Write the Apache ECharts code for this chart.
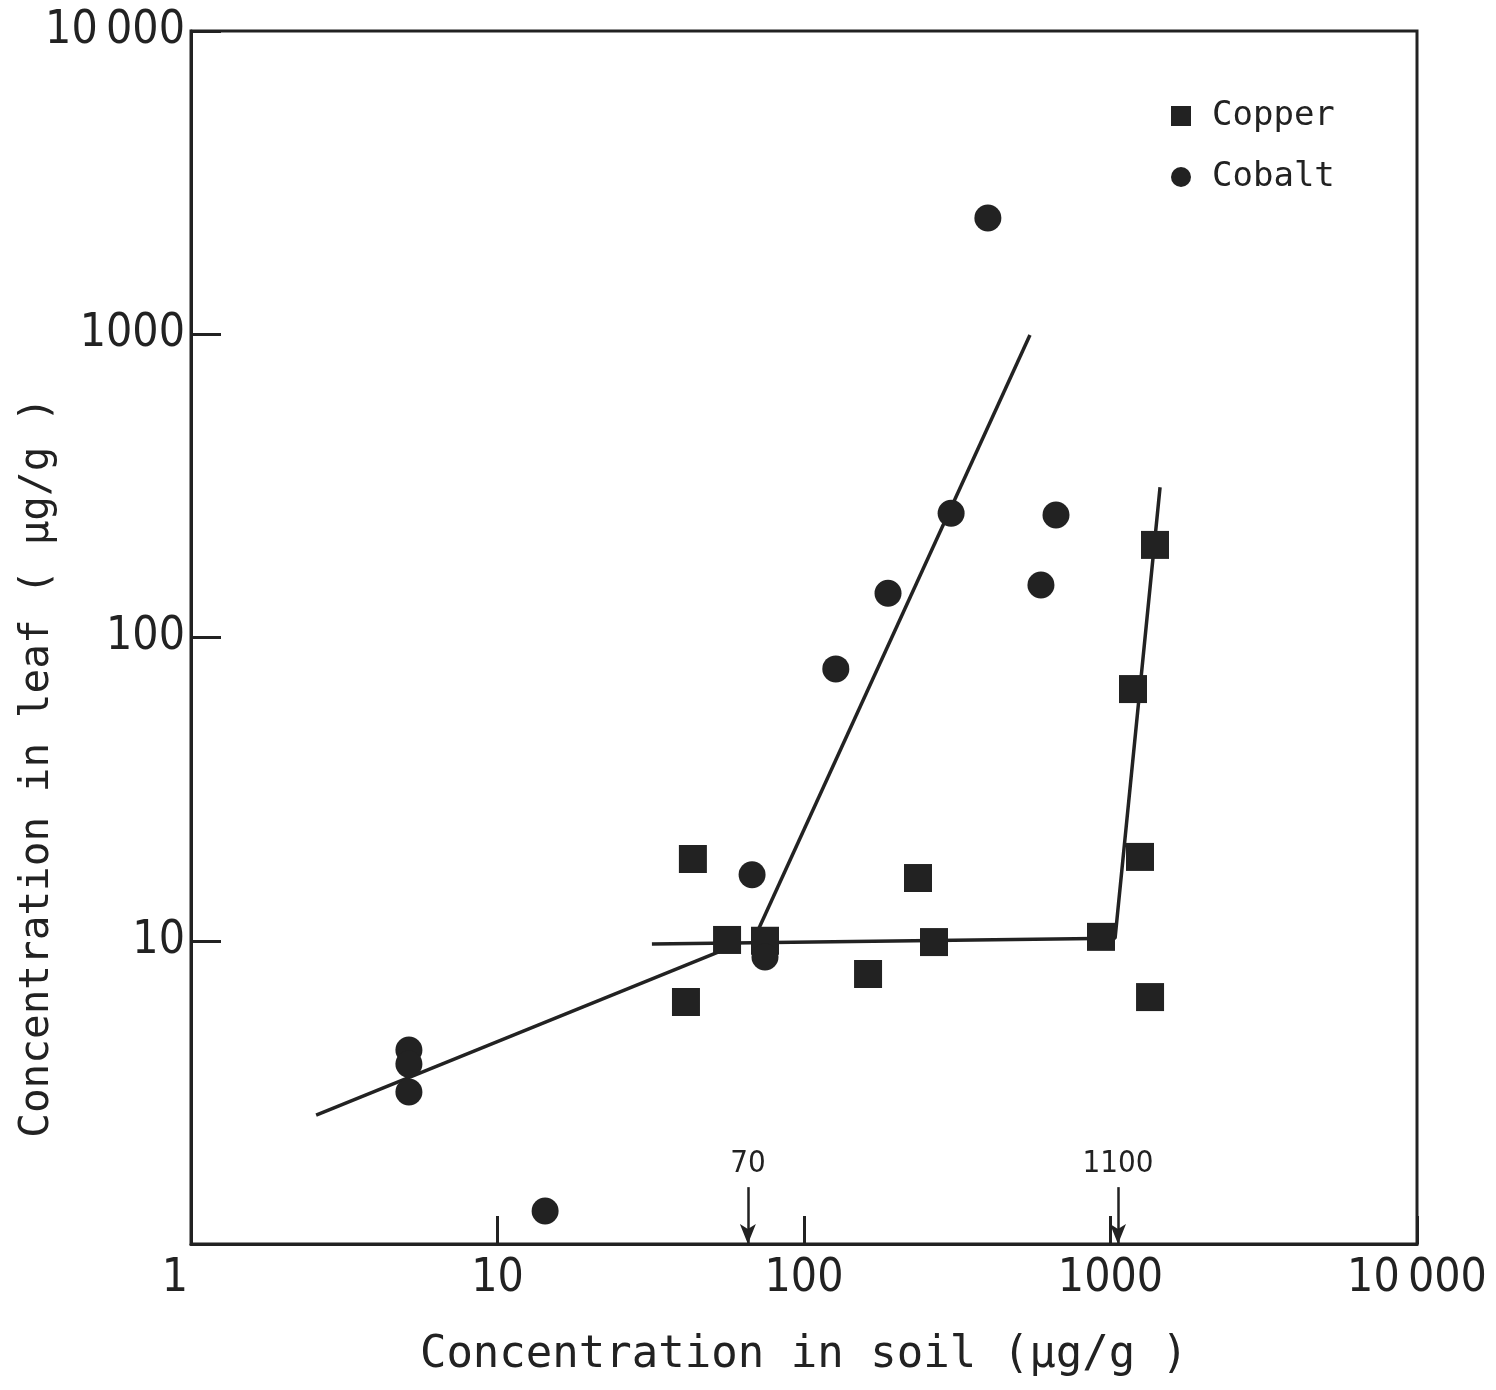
<!DOCTYPE html>
<html>
<head>
<meta charset="utf-8">
<script src="https://cdn.jsdelivr.net/npm/echarts@6/dist/echarts.min.js"></script>
<style>
html,body{margin:0;padding:0;background:#fff;}
#chart{width:1496px;height:1390px;}
</style>
</head>
<body>
<div id="chart"></div>
<script>
// Tick values / labels
const xTickLabels = {1:'1', 10:'10', 100:'100', 1000:'1000', 10000:'10\u2009000'};
const yTickLabels = {1:'', 10:'10', 100:'100', 1000:'1000', 10000:'10\u2009000'};

// Copper (squares)
const copperX = [43.4, 41.2, 56.1, 74.6, 161.8, 235.5, 265.6, 931, 1248, 1346, 1184, 1397];
const copperY = [18.6, 6.28, 10.06, 10.0, 7.77, 16.1, 9.9, 10.3, 18.9, 6.52, 67.6, 202];

// Cobalt (circles)
const cobaltX = [398, 664, 302, 593, 188, 127, 67.7, 74.6, 5.14, 5.14, 5.14, 14.3];
const cobaltY = [2417, 253.6, 257, 149, 140, 78.8, 16.5, 8.84, 4.36, 3.92, 3.17, 1.285];

// Fitted lines
const cobaltLowX = [2.56, 57];
const cobaltLowY = [2.66, 9.5];
const cobaltSteepX = [68, 546];
const cobaltSteepY = [9.9, 995];
const copperFitX = [31.9, 1035, 1451];
const copperFitY = [9.76, 10.2, 313];

// Threshold arrows
const arrowX = [65.6, 1058];
const arrowLabels = ['70', '1100'];
const arrowTopY = 1.54;

const zip = (a, b) => a.map((v, i) => [v, b[i]]);
const INK = '#222';
const NUMFONT = '"DejaVu Sans Condensed", "Liberation Sans Narrow", "DejaVu Sans", sans-serif';
const TITLEFONT = '"DejaVu Sans Mono", monospace';

const chart = echarts.init(document.getElementById('chart'));
const lineStyle = {color: INK, width: 3.5};

chart.setOption({
  animation: false,
  backgroundColor: '#fff',
  grid: {left: 191, top: 31, right: 79, bottom: 146, show: true, borderColor: INK, borderWidth: 3,
         containLabel: false, outerBoundsMode: 'none'},
  legend: {
    orient: 'vertical', left: 1166, top: 91,
    itemWidth: 20, itemHeight: 20, itemGap: 21,
    data: [{name: 'Copper', icon: 'rect'}, {name: 'Cobalt', icon: 'circle'}],
    textStyle: {fontFamily: TITLEFONT, fontSize: 34, color: INK, lineHeight: 40, padding: [0, 0, 0, 16]},
    itemStyle: {color: INK, opacity: 1}
  },
  xAxis: {
    type: 'log', logBase: 10, min: 1, max: 10000,
    name: 'Concentration in soil (µg/g )', nameLocation: 'middle', nameGap: 90,
    nameMoveOverlap: false,
    nameTextStyle: {fontFamily: TITLEFONT, fontSize: 44, color: INK},
    axisLine: {lineStyle: {color: INK, width: 3}},
    axisTick: {inside: true, length: 28, lineStyle: {color: INK, width: 3}},
    splitLine: {show: false},
    axisLabel: {
      margin: 12, color: INK, fontFamily: NUMFONT, fontSize: 46,
      formatter: v => v === 1 ? '{one|1}' : (xTickLabels[v] || ''),
      rich: {one: {fontFamily: NUMFONT, fontSize: 46, color: INK, padding: [0, 32, 0, 0]}}
    }
  },
  yAxis: {
    type: 'log', logBase: 10, min: 1, max: 10000,
    name: 'Concentration in leaf ( µg/g )', nameLocation: 'middle', nameGap: 133,
    nameMoveOverlap: false,
    nameTextStyle: {fontFamily: TITLEFONT, fontSize: 41, color: INK, padding: [0, 260, 0, 0]},
    axisLine: {lineStyle: {color: INK, width: 3}},
    axisTick: {inside: true, length: 30, lineStyle: {color: INK, width: 3}},
    splitLine: {show: false},
    axisLabel: {
      margin: 6, color: INK, fontFamily: NUMFONT, fontSize: 46,
      formatter: v => (yTickLabels[v] !== undefined ? yTickLabels[v] : '')
    }
  },
  series: [
    {type: 'line', name: 'cobaltLow', data: zip(cobaltLowX, cobaltLowY), showSymbol: false, lineStyle, silent: true, z: 3},
    {type: 'line', name: 'cobaltSteep', data: zip(cobaltSteepX, cobaltSteepY), showSymbol: false, lineStyle, silent: true, z: 3},
    {
      type: 'line', name: 'copperFit', data: zip(copperFitX, copperFitY), showSymbol: false, lineStyle, silent: true, z: 3,
      markLine: {
        silent: true,
        symbol: ['none', 'arrow'], symbolSize: [12, 20],
        lineStyle: {color: INK, width: 2.5, type: 'solid', opacity: 1},
        label: {show: true, position: 'start', distance: 8, color: INK, fontFamily: NUMFONT, fontSize: 31},
        data: arrowX.map((x, i) => [
          {coord: [x, arrowTopY], label: {formatter: arrowLabels[i]}},
          {coord: [x, 1]}
        ])
      }
    },
    {type: 'scatter', name: 'Copper', data: zip(copperX, copperY), symbol: 'rect', symbolSize: 28, itemStyle: {color: INK, opacity: 1}, z: 4},
    {type: 'scatter', name: 'Cobalt', data: zip(cobaltX, cobaltY), symbol: 'circle', symbolSize: 27, itemStyle: {color: INK, opacity: 1}, z: 4}
  ]
});
</script>
</body>
</html>
